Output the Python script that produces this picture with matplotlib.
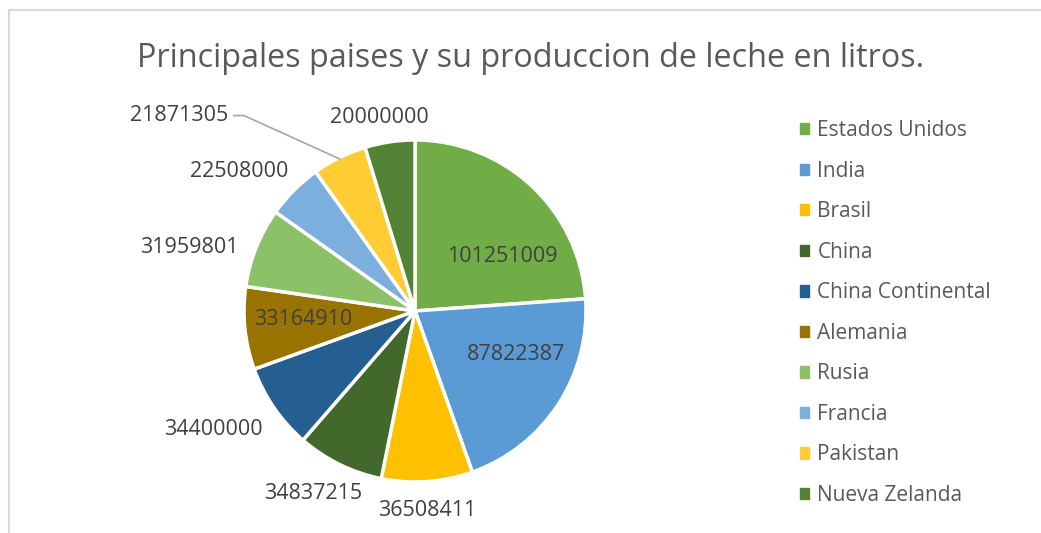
import numpy as np
import matplotlib
matplotlib.use("Agg")
import matplotlib.pyplot as plt
from matplotlib.patches import Patch, Rectangle

plt.rcParams["font.family"] = ["Open Sans", "DejaVu Sans"]

# --- data -------------------------------------------------------------------
paises = ["Estados Unidos", "India", "Brasil", "China", "China Continental",
          "Alemania", "Rusia", "Francia", "Pakistan", "Nueva Zelanda"]
litros = [101251009, 87822387, 36508411, 34837215, 34400000,
          33164910, 31959801, 22508000, 21871305, 20000000]
colores = ["#70AD47", "#5B9BD5", "#FFC000", "#43682B", "#255E91",
           "#997300", "#8CC168", "#7CAFDD", "#FFCD33", "#548235"]

# label placement: (radius factor, angle nudge in degrees) per slice
label_radius = [0.60, 0.64, 1.17, 1.22, 1.37, 0.657, 1.37, 1.31, None, 1.15]
label_nudge = [-15.2, 10, -0.7, -3, -4, -1.65, 6, 6.5, 0, 2]

W, H, DPI = 1041, 533, 100
cx, cy, r = 415, 311, 171   # pie centre / radius in pixels
LBL = 15.5

fig = plt.figure(figsize=(W / DPI, H / DPI), dpi=DPI)
ax = fig.add_axes([0, 0, 1, 1])

wedges, _ = ax.pie(litros, colors=colores, startangle=90, counterclock=False,
                   radius=1, center=(0, 0), frame=True,
                   wedgeprops=dict(edgecolor="white", linewidth=2.5))
ax.set_xlim(-cx / r, (W - cx) / r)
ax.set_ylim(-(H - cy) / r, cy / r)
ax.set_aspect("auto")
ax.axis("off")

for i, w in enumerate(wedges):
    mid = np.deg2rad((w.theta1 + w.theta2) / 2 + label_nudge[i])
    txt = f"{litros[i]}"
    if label_radius[i] is None:
        # label with leader line (Pakistan)
        ex, ey = np.cos(mid) * 0.99, np.sin(mid) * 0.99
        kx, ky = -1.0, 1.143
        ax.plot([ex, kx, kx - 0.06], [ey, ky, ky], color="#A6A6A6", lw=1.2)
        ax.text(kx - 0.094, ky, txt, ha="right", va="center",
                fontsize=LBL, color="#404040")
        continue
    rr = label_radius[i]
    ax.text(rr * np.cos(mid), rr * np.sin(mid), txt, ha="center", va="center",
            fontsize=LBL, color="#404040")

fig.text(0.510, 0.891, "Principales paises y su produccion de leche en litros.",
         ha="center", va="center", fontsize=23.3, color="#595959")

handles = [Patch(facecolor=c, edgecolor=c) for c in colores]
fig.legend(handles, paises, loc="upper left", bbox_to_anchor=(0.7605, 0.790),
           frameon=False, fontsize=15, labelcolor="#595959",
           handlelength=0.45, handleheight=0.45, handletextpad=0.38,
           labelspacing=0.937, borderaxespad=0)

# chart area border (light grey), runs off the right/bottom edges
fig.patches.append(Rectangle((8.5 / W, -0.1), 1.2, 1 - 10.5 / H + 0.1,
                             transform=fig.transFigure, fill=False,
                             edgecolor="#D9D9D9", lw=1.5))

fig.savefig("out.png", dpi=DPI)
